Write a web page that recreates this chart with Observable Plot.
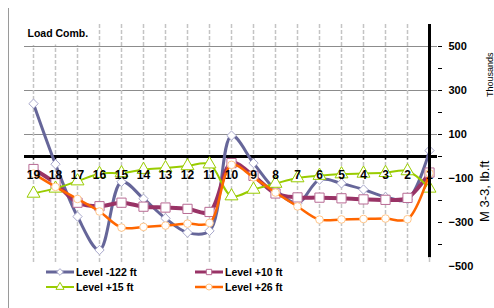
<!DOCTYPE html>
<html>
<head>
<meta charset="utf-8">
<script src="https://cdn.jsdelivr.net/npm/d3@7"></script>
<script src="https://cdn.jsdelivr.net/npm/@observablehq/plot@0.6"></script>
<style>
  html, body { margin: 0; padding: 0; background: #fff; }
  body { font-family: "Liberation Sans", Arial, sans-serif; }
  #wrap { position: relative; width: 494px; height: 308px; overflow: hidden; }
  #border { position: absolute; left: 8px; top: 8px; bottom: 0; border-left: 1px solid #9a9a9a; }
  #legend { position: absolute; left: 46px; top: 265px; display: grid; grid-template-columns: 149px 150px; row-gap: 2px;
    font: bold 10.5px "Liberation Sans", Arial, sans-serif; color: #000; }
  #legend .item { display: flex; align-items: center; height: 13px; white-space: nowrap; }
  #legend svg { margin-right: 2px; }
  svg g[aria-label="y-axis tick label"] text { font-weight: bold; }
</style>
</head>
<body>
<div id="wrap"><div id="border"></div><div id="chart"></div><div id="legend"></div></div>
<script>
// Categories (load combinations) left to right
const categories = ["19","18","17","16","15","14","13","12","11","10","9","8","7","6","5","4","3","2","1"];
// Series values (thousands lb.ft)
const level122 = [240, -35, -273, -425, -115, -192, -281, -346, -338, 95, -30, -152, -212, -105, -122, -150, -184, -195, 27];
const level10  = [-57, -122, -210, -226, -210, -228, -232, -238, -252, -30, -88, -168, -186, -187, -190, -195, -197, -188, -73];
const level15  = [-168, -145, -112, -78, -75, -60, -52, -43, -35, -180, -150, -123, -98, -87, -80, -77, -74, -66, -145];
const level26  = [-78, -138, -193, -250, -323, -320, -314, -305, -302, -38, -95, -164, -227, -287, -286, -284, -282, -285, -76];
// Axis tick labels
const yTickLabels = [500, 300, 100, -100, -300, -500];
const yMinorTicks = [500, 400, 300, 200, 100, 0, -100, -200, -300, -400];
const gridValues = [100, 300, 500];
const seriesNames = ["Level -122 ft", "Level +10 ft", "Level +15 ft", "Level +26 ft"];

const styles = [
  {values: level122, color: "#666699", width: 3,   symbol: "diamond2", r: 4.2, mstroke: "#a9a9cc"},
  {values: level10,  color: "#993366", width: 4,   symbol: "square",   r: 5.2, mstroke: "#b86b94"},
  {values: level15,  color: "#99cc00", width: 2,   symbol: "triangle", r: 4.8, mstroke: "#99cc00"},
  {values: level26,  color: "#ff6600", width: 2.5, symbol: "circle",   r: 3.8, mstroke: "#ffc68a"}
];
const tables = styles.map((s, i) => categories.map((c, j) => ({cat: c, value: s.values[j], series: seriesNames[i]})));

const seriesMarks = [];
styles.forEach((s, i) => {
  seriesMarks.push(Plot.line(tables[i], {x: "cat", y: "value", curve: "catmull-rom", stroke: s.color, strokeWidth: s.width}));
  seriesMarks.push(Plot.dot(tables[i], {x: "cat", y: "value", symbol: () => s.symbol, r: s.r, fill: "white", stroke: s.mstroke, strokeWidth: 1}));
});

const chart = Plot.plot({
  width: 494,
  height: 308,
  marginLeft: 24,
  marginRight: 57,
  marginTop: 24,
  marginBottom: 42,
  style: {fontFamily: "'Liberation Sans', Arial, sans-serif", background: "transparent", overflow: "visible"},
  x: {type: "point", domain: categories, padding: 0, axis: null},
  y: {domain: [-500, 600], axis: null},
  symbol: {type: "identity"},
  marks: [
    Plot.ruleY(gridValues, {stroke: "#8c8c8c", strokeWidth: 1}),
    Plot.ruleX(categories, {y1: () => -482, y2: () => 600, stroke: "#c4c4c4", strokeWidth: 1.5, strokeDasharray: "4,2"}),
    Plot.text(["Load Comb."], {frameAnchor: "top-left", dx: 3, dy: 9, textAnchor: "start", lineAnchor: "middle",
      fontSize: 10.5, fontWeight: "bold", fill: "#000", stroke: "white", strokeWidth: 16}),
    Plot.ruleY([0], {stroke: "#000", strokeWidth: 3}),
    Plot.ruleX(categories, {y1: () => 0, y2: () => -16, stroke: "#000", strokeWidth: 1.5}),
    ...seriesMarks,
    Plot.text(categories, {x: d => d, y: () => 0, dy: 19, text: d => d, fontSize: 12, fontWeight: "bold", fill: "#000"}),
    Plot.ruleX(["1"], {y1: () => -460, y2: () => 600, stroke: "#000", strokeWidth: 3}),
    Plot.axisY({anchor: "right", ticks: yMinorTicks, tickSize: 4, tickFormat: () => "", stroke: "#000", label: null}),
    Plot.axisY({anchor: "right", ticks: yTickLabels, tickSize: 0, tickPadding: 11, fontSize: 11, fontWeight: "bold", fill: "#000", label: null}),
    Plot.text(["M 3-3, lb.ft"], {frameAnchor: "right", dx: 47, dy: 15, rotate: -90, fontSize: 13, fill: "#000"}),
    Plot.text(["Thousands"], {frameAnchor: "top-right", dx: 49, dy: 28, rotate: -90, fontSize: 9, fill: "#000"})
  ]
});
document.getElementById("chart").appendChild(chart);

// Legend
const legend = document.getElementById("legend");
const ns = "http://www.w3.org/2000/svg";
styles.forEach((s, i) => {
  const item = document.createElement("div");
  item.className = "item";
  const sw = document.createElementNS(ns, "svg");
  sw.setAttribute("width", 28); sw.setAttribute("height", 12);
  const ln = document.createElementNS(ns, "line");
  ln.setAttribute("x1", 0); ln.setAttribute("x2", 28); ln.setAttribute("y1", 6); ln.setAttribute("y2", 6);
  ln.setAttribute("stroke", s.color); ln.setAttribute("stroke-width", Math.min(s.width, 3));
  sw.appendChild(ln);
  const sym = {diamond2: d3.symbolDiamond2, square: d3.symbolSquare, triangle: d3.symbolTriangle, circle: d3.symbolCircle}[s.symbol];
  const p = document.createElementNS(ns, "path");
  p.setAttribute("d", d3.symbol(sym, Math.PI * 3 * 3)());
  p.setAttribute("transform", "translate(14,6)");
  p.setAttribute("fill", "white"); p.setAttribute("stroke", s.mstroke);
  sw.appendChild(p);
  item.appendChild(sw);
  const t = document.createElement("span");
  t.textContent = seriesNames[i];
  item.appendChild(t);
  legend.appendChild(item);
});
</script>
</body>
</html>
